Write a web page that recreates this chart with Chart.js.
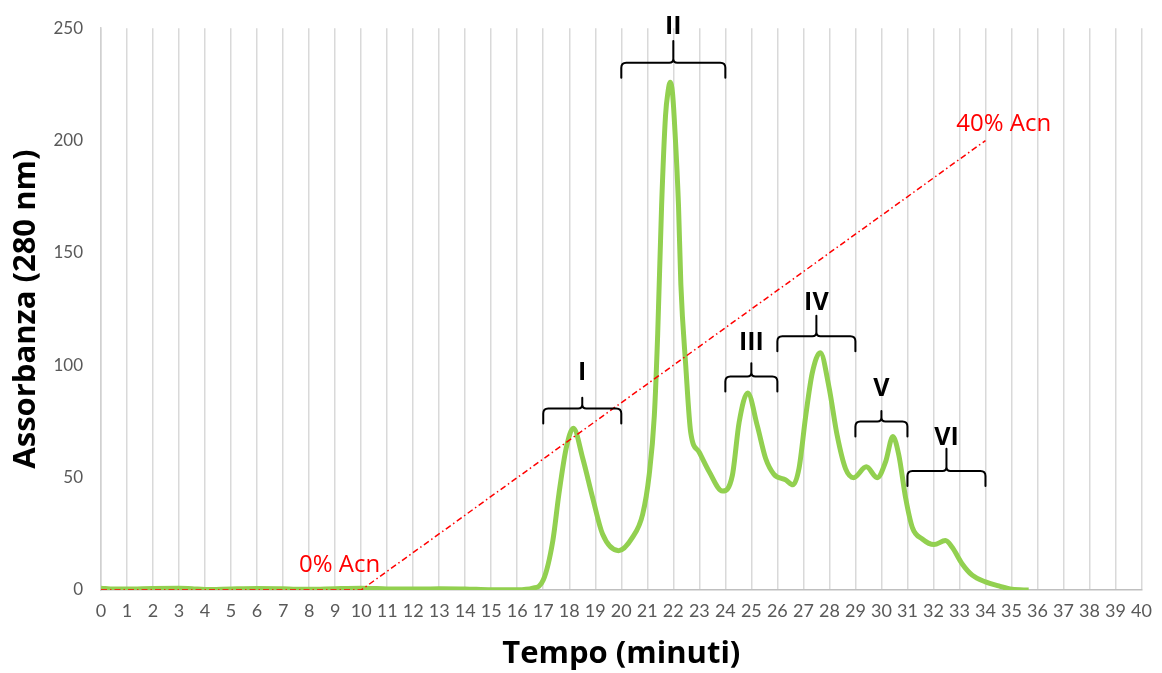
<!DOCTYPE html>
<html>
<head>
<meta charset="utf-8">
<script src="https://cdn.jsdelivr.net/npm/chart.js@4.4.1/dist/chart.umd.min.js"></script>
<style>
html,body{margin:0;padding:0;background:#fff;}
#wrap{width:1162px;height:673px;position:relative;}
</style>
</head>
<body>
<div id="wrap"><canvas id="c" width="1162" height="673"></canvas></div>
<script>
// ---- data ----
const timeMin = [0,0.5,1,2,3,3.5,4,5,6,7,7.5,8,9,10,11,12,13,14,15,16,16.6,
  17.0,17.37,17.6,17.88,18.16,18.52,18.9,19.28,19.9,20.43,20.82,21.07,21.27,21.4,21.55,21.7,21.8,21.88,21.97,22.05,22.2,22.29,22.48,22.67,22.99,23.38,23.89,24.27,24.53,24.86,25.23,25.55,25.87,26.32,26.6,26.83,27.09,27.34,27.65,27.98,28.3,28.62,28.93,29.42,29.84,30.16,30.44,30.67,30.93,31.19,31.57,32.02,32.46,32.72,33.1,33.49,34.0,34.51,35.02,35.66];
const absorbance = [0.8,0.4,0.4,0.7,0.8,0.6,0.2,0.5,0.7,0.6,0.3,0.3,0.6,0.8,0.5,0.4,0.6,0.5,0.1,0.1,0.8,
  4.4,22,42.5,63,72,58.5,41,24.9,17.5,23.4,33.6,51,77.5,114,171,211,222,226,221,207,171,136,99.5,70,61.4,52.6,44,51,74.6,87.7,73,58.5,51.5,49,46.8,54,77.5,96.5,105.6,90.6,68.7,54,50,54.8,50,57,68.3,60,41,27.8,22.7,20.2,22,19,11.7,6.6,3.6,1.8,0.3,0];
const gradientTime = [0,10,34];
const gradientAcn = [0,0,200];
const xTickLabels = Array.from({length:41},(_,i)=>String(i));
const yTickValues = [0,50,100,150,200,250];
const fractionLabels = ['I','II','III','IV','V','VI'];
const fractionStart = [17,20,24,26,29,31];
const fractionEnd = [20,24,26,29,31,34];
const fractionLevel = [80.8,234.6,95,112.9,75,53];
const fractionTickTop = [85.5,244.3,100.9,122,79.7,62.9];
const fractionLabelLevel = [96.5,250.4,110,127.6,89.5,67.5];
const acnLabels = ['0% Acn','40% Acn'];
const acnLabelTime = [9.17,34.7];
const acnLabelValue = [11,207.5];

const FONT = 'Lato, "Open Sans", sans-serif';
const TFONT = '"Open Sans", Lato, sans-serif';

const annotPlugin = {
  id:'annot',
  afterDatasetsDraw(chart){
    const ctx = chart.ctx, xs = chart.scales.x, ys = chart.scales.y;
    ctx.save();
    ctx.strokeStyle = '#000';
    ctx.lineWidth = 2;
    ctx.lineJoin = 'round';
    ctx.lineCap = 'round';
    for (let i=0;i<fractionLabels.length;i++){
      const x0 = xs.getPixelForValue(fractionStart[i]);
      const x1 = xs.getPixelForValue(fractionEnd[i]);
      const xm = (x0+x1)/2;
      const yl = ys.getPixelForValue(fractionLevel[i]);
      const yt = ys.getPixelForValue(fractionTickTop[i]);
      const drop = 15, r = 5, c = 4;
      ctx.beginPath();
      ctx.moveTo(x0, yl+drop);
      ctx.lineTo(x0, yl+r);
      ctx.quadraticCurveTo(x0, yl, x0+r, yl);
      ctx.lineTo(xm-c, yl);
      ctx.quadraticCurveTo(xm, yl, xm, yl-c);
      ctx.lineTo(xm, yt);
      ctx.moveTo(xm, yl-c);
      ctx.quadraticCurveTo(xm, yl, xm+c, yl);
      ctx.lineTo(x1-r, yl);
      ctx.quadraticCurveTo(x1, yl, x1, yl+r);
      ctx.lineTo(x1, yl+drop);
      ctx.stroke();
      ctx.fillStyle = '#000';
      ctx.font = 'bold 25px ' + TFONT;
      ctx.textAlign = 'center';
      ctx.textBaseline = 'middle';
      ctx.fillText(fractionLabels[i], xm, ys.getPixelForValue(fractionLabelLevel[i]));
    }
    ctx.fillStyle = '#ff0000';
    ctx.font = '24px ' + TFONT;
    ctx.textAlign = 'center';
    ctx.textBaseline = 'middle';
    for (let i=0;i<acnLabels.length;i++){
      ctx.fillText(acnLabels[i], xs.getPixelForValue(acnLabelTime[i]), ys.getPixelForValue(acnLabelValue[i]));
    }
    ctx.restore();
  }
};

new Chart(document.getElementById('c'), {
  type:'line',
  data:{
    datasets:[
      {
        label:'Gradiente',
        data: gradientTime.map((t,i)=>({x:t,y:gradientAcn[i]})),
        borderColor:'#ff0000',
        borderWidth:1.5,
        borderDash:[6,3,1.5,3],
        pointRadius:0,
        tension:0,
        order:0
      },
      {
        label:'Assorbanza',
        data: timeMin.map((t,i)=>({x:t,y:absorbance[i]})),
        borderColor:'#92d050',
        borderWidth:5,
        pointRadius:0,
        cubicInterpolationMode:'monotone',
        order:1
      }
    ]
  },
  options:{
    responsive:false,
    animation:false,
    layout:{padding:{top:20,right:19,left:0,bottom:0}},
    plugins:{legend:{display:false},tooltip:{enabled:false}},
    scales:{
      x:{
        type:'linear',
        min:0,max:40,
        afterFit(s){ s.height = 83; },
        afterBuildTicks(s){ s.ticks = xTickLabels.map(v=>({value:Number(v)})); },
        grid:{color:'#d9d9d9',lineWidth:1.5,drawTicks:false},
        border:{color:'#bfbfbf',width:1.5},
        ticks:{color:'#595959',font:{family:FONT,size:18},padding:10,maxRotation:0,autoSkip:false},
        title:{display:true,text:'Tempo (minuti)',color:'#000',font:{family:TFONT,size:31,weight:'bold'},padding:{top:0,bottom:0}}
      },
      y:{
        min:0,max:250,
        afterFit(s){ s.width = 101; },
        afterBuildTicks(s){ s.ticks = yTickValues.map(v=>({value:v})); },
        grid:{display:false,drawTicks:false},
        border:{color:'#d0d0d0',width:1.5},
        ticks:{color:'#595959',font:{family:FONT,size:17},padding:18},
        title:{display:true,text:'Assorbanza (280 nm)',color:'#000',font:{family:TFONT,size:31,weight:'bold'},padding:{top:8,bottom:0}}
      }
    }
  },
  plugins:[annotPlugin]
});
</script>
</body>
</html>
